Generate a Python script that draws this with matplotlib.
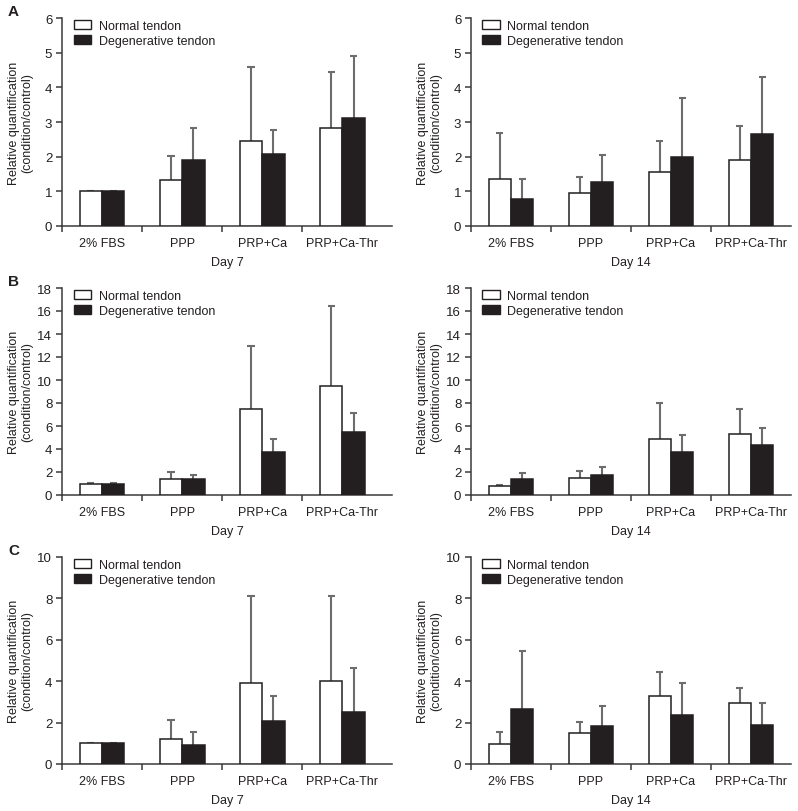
import matplotlib
matplotlib.use("Agg")
import matplotlib.pyplot as plt
import numpy as np
from matplotlib.patches import Patch

plt.rcParams['font.family'] = ['Liberation Sans', 'DejaVu Sans']

categories = ["2% FBS", "PPP", "PRP+Ca", "PRP+Ca-Thr"]
series_names = ["Normal tendon", "Degenerative tendon"]

# Panel A
a7_normal = [1.00, 1.34, 2.44, 2.84]
a7_normal_top = [1.02, 2.02, 4.60, 4.45]
a7_degen = [1.00, 1.91, 2.07, 3.11]
a7_degen_top = [1.02, 2.84, 2.78, 4.89]

a14_normal = [1.37, 0.96, 1.56, 1.91]
a14_normal_top = [2.69, 1.40, 2.46, 2.88]
a14_degen = [0.79, 1.27, 2.00, 2.66]
a14_degen_top = [1.36, 2.06, 3.68, 4.31]

# Panel B
b7_normal = [0.97, 1.40, 7.44, 9.50]
b7_normal_top = [1.03, 2.02, 13.0, 16.4]
b7_degen = [0.98, 1.40, 3.72, 5.50]
b7_degen_top = [1.05, 1.72, 4.88, 7.10]

b14_normal = [0.81, 1.45, 4.85, 5.33]
b14_normal_top = [0.90, 2.08, 8.02, 7.45]
b14_degen = [1.40, 1.78, 3.70, 4.33]
b14_degen_top = [1.92, 2.42, 5.25, 5.80]

# Panel C
c7_normal = [1.00, 1.22, 3.92, 3.99]
c7_normal_top = [1.02, 2.14, 8.14, 8.12]
c7_degen = [1.00, 0.90, 2.09, 2.52]
c7_degen_top = [1.02, 1.56, 3.30, 4.65]

c14_normal = [0.98, 1.50, 3.30, 2.93]
c14_normal_top = [1.56, 2.04, 4.45, 3.65]
c14_degen = [2.64, 1.82, 2.35, 1.88]
c14_degen_top = [5.47, 2.82, 3.92, 2.97]

y_max = {"A": 6, "B": 18, "C": 10}
y_step = {"A": 1, "B": 2, "C": 2}
day_labels = ["Day 7", "Day 14"]

panels = [
    ("A", 0, a7_normal, a7_normal_top, a7_degen, a7_degen_top),
    ("A", 1, a14_normal, a14_normal_top, a14_degen, a14_degen_top),
    ("B", 0, b7_normal, b7_normal_top, b7_degen, b7_degen_top),
    ("B", 1, b14_normal, b14_normal_top, b14_degen, b14_degen_top),
    ("C", 0, c7_normal, c7_normal_top, c7_degen, c7_degen_top),
    ("C", 1, c14_normal, c14_normal_top, c14_degen, c14_degen_top),
]

W, H = 798, 812
fig = plt.figure(figsize=(W / 100, H / 100), dpi=100)

row_px = {"A": (19, 227), "B": (289, 496), "C": (558, 765)}
col_px = [(62, 392, 4.12), (471, 791, 4.0)]

text_col = "#231f20"
edge_col = "#231f20"
err_col = "#6d6d6d"
spine_col = "#3a3a3a"
bw = 0.28

for letter, col, nm, nm_top, dg, dg_top in panels:
    top, bot = row_px[letter]
    x0, x1, xr = col_px[col]
    ax = fig.add_axes([x0 / W, 1 - bot / H, (x1 - x0) / W, (bot - top) / H])
    x = np.arange(len(categories)) + 0.5
    ax.bar(x - bw / 2, nm, width=bw, color="white", edgecolor=edge_col, linewidth=1.1, zorder=3)
    ax.bar(x + bw / 2, dg, width=bw, color="#231f20", edgecolor=edge_col, linewidth=1.1, zorder=3)
    for xs, m, t in ((x - bw / 2, nm, nm_top), (x + bw / 2, dg, dg_top)):
        m = np.array(m); t = np.array(t)
        ax.vlines(xs, m, t, colors=err_col, linewidth=1.5, zorder=2)
        ax.hlines(t, xs - 0.045, xs + 0.045, colors=err_col, linewidth=1.5, zorder=2)
    ax.set_xlim(0, xr)
    ax.set_ylim(0, y_max[letter])
    ax.set_yticks(np.arange(0, y_max[letter] + 0.01, y_step[letter]))
    ax.set_xticks(np.arange(len(categories)))
    ax.set_xticklabels([])
    ax.set_xticks(x, minor=True)
    ax.set_xticklabels(categories, minor=True)
    ax.tick_params(axis="x", which="minor", length=0, pad=8, labelsize=9, colors=text_col)
    ax.tick_params(axis="x", which="major", length=4, width=1.1, color=spine_col)
    ax.tick_params(axis="y", length=4, width=1.1, color=spine_col, labelsize=9.5, labelcolor=text_col, pad=3)
    for s in ("top", "right"):
        ax.spines[s].set_visible(False)
    for s in ("left", "bottom"):
        ax.spines[s].set_color(spine_col)
        ax.spines[s].set_linewidth(1.1)
    ax.set_xlabel(day_labels[col], fontsize=9, color=text_col, labelpad=5)
    ax.set_ylabel("Relative quantification\n(condition/control)", fontsize=9, color=text_col, linespacing=1.1)
    ax.yaxis.set_label_coords(-29.0 / (x1 - x0), 0.5)
    handles = [Patch(facecolor="white", edgecolor=edge_col, linewidth=1.0),
               Patch(facecolor="#231f20", edgecolor=edge_col, linewidth=1.0)]
    ax.legend(handles, series_names, loc="upper left", bbox_to_anchor=(0.02, 1.015), frameon=False,
              fontsize=9, handlelength=1.4, handleheight=0.8, handletextpad=0.6, labelspacing=0.22,
              labelcolor=text_col, borderaxespad=0)
    if col == 0:
        fig.text(8 / W, 1 - (top - 7) / H, letter, fontsize=11, fontweight="bold", color=text_col,
                 ha="left", va="center")

fig.savefig("out.png", dpi=100)
